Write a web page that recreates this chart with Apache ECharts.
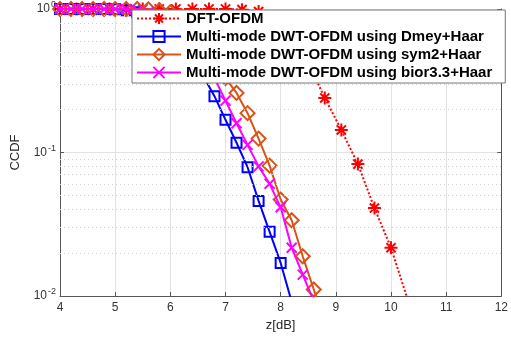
<!DOCTYPE html>
<html>
<head>
<meta charset="utf-8">
<script src="https://cdn.jsdelivr.net/npm/echarts@6/dist/echarts.min.js"></script>
<style>
  html, body { margin: 0; padding: 0; background: #fff; }
  #chart { width: 511px; height: 337px; }
</style>
</head>
<body>
<div id="chart"></div>
<script>
// x positions (dB)
const xDft = [4.0, 4.3, 4.6, 4.9, 5.2, 5.5, 5.8, 6.1, 6.4, 6.7, 7.0, 7.3, 7.6, 7.9, 8.2, 8.5, 8.8, 9.1, 9.4, 9.7, 10.0, 10.3];
const xDwt = [4.0, 4.2, 4.4, 4.6, 4.8, 5.0, 5.2, 5.4, 5.6, 5.8, 6.0, 6.2, 6.4, 6.6, 6.8, 7.0, 7.2, 7.4, 7.6, 7.8, 8.0, 8.2, 8.4, 8.6, 8.8];

// CCDF values
const dftOfdm = [1, 1, 1, 1, 1, 1, 1, 1, 1, 1, 1, 0.99, 0.96, 0.87, 0.68, 0.42, 0.24, 0.1436, 0.083, 0.041, 0.0217, 0.0095];
const dmeyHaar = [1, 1, 1, 1, 1, 0.995, 0.98, 0.95, 0.9, 0.82, 0.71, 0.58, 0.45, 0.34, 0.247, 0.169, 0.117, 0.079, 0.046, 0.028, 0.017, 0.0091];
const sym2Haar = [1, 1, 1, 1, 1, 1, 1, 1, 0.995, 0.98, 0.95, 0.89, 0.8, 0.62, 0.44, 0.33, 0.26, 0.188, 0.125, 0.081, 0.047, 0.0337, 0.0189, 0.0111, 0.0065];
const bior33Haar = [1, 1, 1, 1, 1, 1, 0.995, 0.98, 0.95, 0.9, 0.82, 0.71, 0.58, 0.45, 0.33, 0.23, 0.16, 0.113, 0.08, 0.0605, 0.0415, 0.0217, 0.0141, 0.0092];

const names = [
  'DFT-OFDM',
  'Multi-mode DWT-OFDM using Dmey+Haar',
  'Multi-mode DWT-OFDM using sym2+Haar',
  'Multi-mode DWT-OFDM using bior3.3+Haar'
];
const xTicks = [4, 5, 6, 7, 8, 9, 10, 11, 12];
const minorY = [0.02, 0.03, 0.04, 0.05, 0.06, 0.07, 0.08, 0.09, 0.2, 0.3, 0.4, 0.5, 0.6, 0.7, 0.8, 0.9];

const pairs = (xs, ys) => ys.map((v, i) => [xs[i], v]);

const asterisk = 'path://M0,-10L0,10M-10,0L10,0M-7.07,-7.07L7.07,7.07M-7.07,7.07L7.07,-7.07';
const cross = 'path://M-10,-10L10,10M-10,10L10,-10';

const chart = echarts.init(document.getElementById('chart'));

const font = 'Arial, "Liberation Sans", Helvetica, sans-serif';

chart.setOption({
  animation: false,
  textStyle: { fontFamily: font },
  grid: { left: 60, right: 6, top: 9, bottom: 41 },
  legend: {
    orient: 'vertical',
    left: 132,
    top: 10,
    z: 20,
    padding: [0, 13, 2, 4],
    itemGap: 1,
    itemWidth: 44,
    itemHeight: 14,
    backgroundColor: '#fff',
    borderColor: '#777',
    borderWidth: 1,
    borderRadius: 0,
    textStyle: { fontSize: 15, lineHeight: 17, fontWeight: 'bold', color: '#000', fontFamily: font },
    data: names
  },
  xAxis: {
    type: 'value',
    min: 4,
    max: 12,
    interval: 1,
    name: 'z[dB]',
    nameLocation: 'middle',
    nameGap: 23,
    nameTextStyle: { fontSize: 13, color: '#262626' },
    axisLine: { lineStyle: { color: '#555', width: 1 } },
    axisTick: { inside: true, length: 4, lineStyle: { color: '#555' } },
    axisLabel: {
      fontSize: 12, color: '#333', margin: 6,
      formatter: v => xTicks.includes(v) ? String(v) : ''
    },
    splitLine: { show: true, lineStyle: { color: '#e3e3e3', width: 1 } }
  },
  yAxis: [{
    type: 'log',
    logBase: 10,
    min: 0.01,
    max: 1,
    name: 'CCDF',
    nameLocation: 'middle',
    nameGap: 38,
    nameTextStyle: { fontSize: 13, color: '#262626' },
    axisLine: { show: true, lineStyle: { color: '#555', width: 1 } },
    axisTick: { inside: true, length: 4, lineStyle: { color: '#555' } },
    axisLabel: {
      fontSize: 12, color: '#333', margin: 4,
      formatter: v => '10{sup|' + Math.round(Math.log10(v)) + '}',
      rich: { sup: { fontSize: 9, color: '#333', verticalAlign: 'top', padding: [0, 0, 8, 1] } }
    },
    splitLine: { show: true, lineStyle: { color: '#e3e3e3', width: 1 } }
  }, {
    type: 'log',
    logBase: 10,
    min: 0.01,
    max: 1,
    position: 'right',
    axisLine: { show: true, lineStyle: { color: '#555', width: 1 } },
    axisTick: { inside: true, length: 4, lineStyle: { color: '#555' } },
    axisLabel: { show: false },
    splitLine: { show: false }
  }],
  series: [
    {
      name: names[0],
      type: 'line',
      data: pairs(xDft, dftOfdm),
      symbol: asterisk,
      symbolSize: 13,
      showAllSymbol: true,
      lineStyle: { color: '#ff0000', width: 2, type: 'dotted' },
      itemStyle: { color: 'none', borderColor: '#ff0000', borderWidth: 2 },
      markLine: {
        silent: true,
        symbol: 'none',
        label: { show: false },
        lineStyle: { color: '#d0d0d0', type: [1, 3], width: 1 },
        data: minorY.map(v => ({ yAxis: v }))
      },
      z: 2
    },
    {
      name: names[1],
      type: 'line',
      data: pairs(xDwt, dmeyHaar),
      symbol: 'rect',
      symbolSize: 10,
      showAllSymbol: true,
      lineStyle: { color: '#0000ff', width: 2 },
      itemStyle: { color: 'none', borderColor: '#0000ff', borderWidth: 2 },
      z: 3
    },
    {
      name: names[2],
      type: 'line',
      data: pairs(xDwt, sym2Haar),
      symbol: 'diamond',
      symbolSize: 14,
      showAllSymbol: true,
      lineStyle: { color: '#d95319', width: 2 },
      itemStyle: { color: 'none', borderColor: '#d95319', borderWidth: 2 },
      z: 4
    },
    {
      name: names[3],
      type: 'line',
      data: pairs(xDwt, bior33Haar),
      symbol: cross,
      symbolSize: 10,
      showAllSymbol: true,
      lineStyle: { color: '#ff00ff', width: 2 },
      itemStyle: { color: 'none', borderColor: '#ff00ff', borderWidth: 2 },
      z: 5
    }
  ]
});
</script>
</body>
</html>
